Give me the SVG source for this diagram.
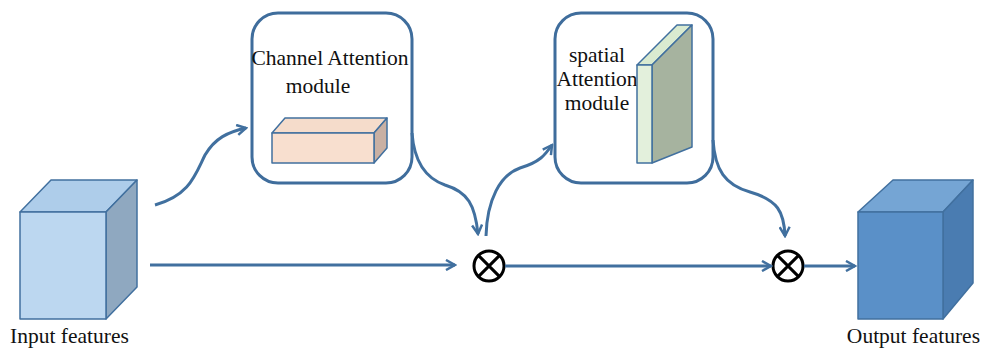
<svg xmlns="http://www.w3.org/2000/svg" width="983" height="350" viewBox="0 0 983 350">
<defs>
<style>
.lbl{font-family:"Liberation Serif","Times New Roman",serif;font-size:21.5px;fill:#111}
.box{fill:#fff;stroke:#3f6d9c;stroke-width:3}
.con{fill:none;stroke:#41709f;stroke-width:3}
.op{fill:#fff;stroke:#000;stroke-width:3}
.edge{stroke:#41709f;stroke-width:1.5;stroke-linejoin:round}
</style>
<marker id="arr" viewBox="0 0 12 12" refX="10" refY="6" markerWidth="12" markerHeight="12" markerUnits="userSpaceOnUse" orient="auto">
<path d="M1,1 L10,6 L1,11" fill="none" stroke="#41709f" stroke-width="2.5"/>
</marker>
</defs>
<rect width="983" height="350" fill="#fff"/>

<g id="input">
<polygon class="edge" points="20,212 51,180 137,180 106,212" fill="#aecdea"/>
<polygon class="edge" points="106,212 137,180 137,287 106,319" fill="#8fa8c0"/>
<rect class="edge" x="20" y="212" width="86" height="107" fill="#bcd7f0"/>
<text class="lbl" x="10" y="343">Input features</text>
</g>

<g id="channel">
<rect class="box" x="252" y="13" width="160" height="170" rx="26"/>
<text class="lbl" x="330" y="65" text-anchor="middle">Channel Attention</text>
<text class="lbl" x="318" y="93" text-anchor="middle">module</text>
<polygon class="edge" points="272,133 285,118 387,118 374,133" fill="#f5dccb"/>
<polygon class="edge" points="374,133 387,118 387,148 374,163" fill="#c9b0a3"/>
<rect class="edge" x="272" y="133" width="102" height="30" fill="#f8dfcf"/>
</g>

<g id="spatial">
<rect class="box" x="555" y="13" width="158" height="170" rx="26"/>
<text class="lbl" x="597" y="62" text-anchor="middle">spatial</text>
<text class="lbl" x="597" y="86" text-anchor="middle">Attention</text>
<text class="lbl" x="597" y="110" text-anchor="middle">module</text>
<polygon class="edge" points="637,65 677,25 692,25 652,65" fill="#d9ead0"/>
<polygon class="edge" points="652,65 692,25 692,147 652,163" fill="#a6b39f"/>
<rect class="edge" x="637" y="65" width="15" height="98" fill="#e3f0dc"/>
</g>

<g id="mul1">
<circle class="op" cx="489" cy="266" r="15"/>
<path d="M478.4,255.4 L499.6,276.6 M499.6,255.4 L478.4,276.6" stroke="#000" stroke-width="3"/>
</g>

<g id="mul2">
<circle class="op" cx="788" cy="266" r="15"/>
<path d="M777.4,255.4 L798.6,276.6 M798.6,255.4 L777.4,276.6" stroke="#000" stroke-width="3"/>
</g>

<g id="output">
<polygon class="edge" points="858,212 893,180 973,180 943,212" fill="#75a5d4"/>
<polygon class="edge" points="943,212 973,180 973,283 943,319" fill="#4a7cb1"/>
<rect class="edge" x="858" y="212" width="85" height="107" fill="#5a90c8"/>
<text class="lbl" x="980" y="343" text-anchor="end">Output features</text>
</g>

<g id="connectors">
<path class="con" d="M155,205 C190,195 195,175 205,155 C215,138 228,132 246,128" marker-end="url(#arr)"/>
<path class="con" d="M150,265 L455,265" marker-end="url(#arr)"/>
<path class="con" d="M412,133 C414,160 425,178 445,185 C468,192 475,205 478,234" marker-end="url(#arr)"/>
<path class="con" d="M486,236 C487,200 500,175 520,168 C540,162 545,155 552,145" marker-end="url(#arr)"/>
<path class="con" d="M505,266 L771,266" marker-end="url(#arr)"/>
<path class="con" d="M713,140 C715,170 725,185 750,192 C778,200 784,212 785,236" marker-end="url(#arr)"/>
<path class="con" d="M804,266 L855,266" marker-end="url(#arr)"/>
</g>
</svg>
